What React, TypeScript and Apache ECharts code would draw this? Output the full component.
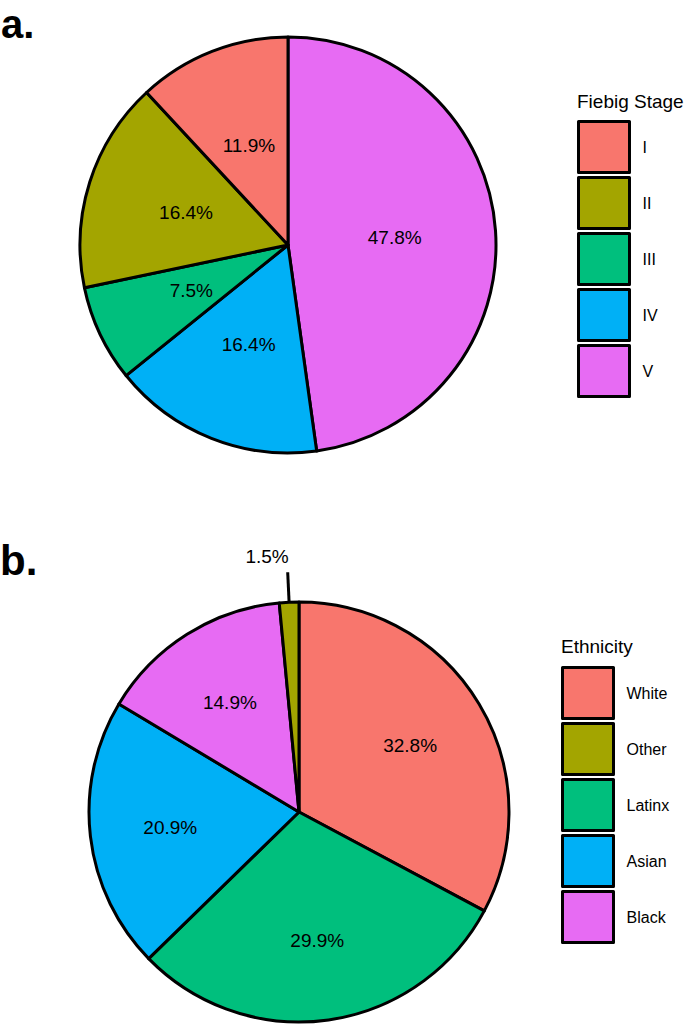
import React, { useEffect, useRef } from "react";
import * as echarts from "echarts";

const FONT = "'Liberation Sans', Arial, Helvetica, sans-serif";

// Panel a: Fiebig stage
const stageNames = ["I", "II", "III", "IV", "V"];
const stageValues = [11.9, 16.4, 7.5, 16.4, 47.8];
const stageColors = ["#F8766D", "#A3A500", "#00BF7D", "#00B0F6", "#E76BF3"];
const stageDrawOrder = ["V", "IV", "III", "II", "I"];

// Panel b: Ethnicity
const ethnicityNames = ["White", "Other", "Latinx", "Asian", "Black"];
const ethnicityValues = [32.8, 1.5, 29.9, 20.9, 14.9];
const ethnicityColors = ["#F8766D", "#A3A500", "#00BF7D", "#00B0F6", "#E76BF3"];
const ethnicityDrawOrder = ["White", "Latinx", "Asian", "Black", "Other"];
const outsideLabelNames = ["Other"];

const TOP_CENTER = [288, 245];
const TOP_R = 208;
const BOT_CENTER = [299, 812];
const BOT_R = 210;

function buildData(order: string[], names: string[], values: number[], colors: string[]) {
  return order.map((name) => {
    const i = names.indexOf(name);
    const item: any = { name, value: values[i], itemStyle: { color: colors[i] } };
    if (outsideLabelNames.includes(name)) {
      item.label = { show: true, position: "outside" };
      item.labelLine = {
        show: true,
        length: 30,
        length2: 0,
        lineStyle: { color: "#000", width: 3 },
      };
    }
    return item;
  });
}

const baseLabel = {
  show: true,
  position: "inside",
  color: "#000",
  fontSize: 19,
  fontFamily: FONT,
  formatter: (p: any) => Number(p.value).toFixed(1) + "%",
};

const legendBase = {
  orient: "vertical",
  icon: "rect",
  itemWidth: 51,
  itemHeight: 51,
  itemGap: 2,
  padding: 0,
  selectedMode: false,
  itemStyle: { borderColor: "#000", borderWidth: 3 },
  textStyle: { fontSize: 16, fontFamily: FONT, color: "#000", padding: [0, 0, 0, 8] },
};

export default function App() {
  const ref = useRef<HTMLDivElement>(null);
  useEffect(() => {
    if (!ref.current) return;
    const chart = echarts.init(ref.current, undefined, { renderer: "svg" });
    const otherIdx = ethnicityDrawOrder.indexOf("Other");
    chart.setOption({
      animation: false,
      backgroundColor: "#fff",
      graphic: [
        { type: "text", x: 1, y: 4, style: { text: "a.", fontSize: 40, fontWeight: "bold", fontFamily: FONT, fill: "#000", verticalAlign: "top" } },
        { type: "text", x: 0, y: 560, style: { text: "b.", fontSize: 42, fontWeight: "bold", fontFamily: FONT, fill: "#000", verticalAlign: "middle" } },
        { type: "text", x: 577, y: 101, style: { text: "Fiebig Stage", fontSize: 19, fontFamily: FONT, fill: "#000", verticalAlign: "middle" } },
        { type: "text", x: 561, y: 646, style: { text: "Ethnicity", fontSize: 19, fontFamily: FONT, fill: "#000", verticalAlign: "middle" } },
      ],
      legend: [
        { ...legendBase, data: stageNames, left: 577, top: 120 },
        { ...legendBase, data: ethnicityNames, left: 561, top: 666 },
      ],
      series: [
        {
          type: "pie",
          center: TOP_CENTER,
          radius: TOP_R,
          startAngle: 90,
          clockwise: true,
          avoidLabelOverlap: false,
          emphasis: { disabled: true },
          itemStyle: { borderColor: "#000", borderWidth: 3 },
          label: baseLabel,
          labelLine: { show: false },
          data: buildData(stageDrawOrder, stageNames, stageValues, stageColors),
        },
        {
          type: "pie",
          center: BOT_CENTER,
          radius: BOT_R,
          startAngle: 90,
          clockwise: true,
          avoidLabelOverlap: false,
          emphasis: { disabled: true },
          itemStyle: { borderColor: "#000", borderWidth: 3 },
          label: baseLabel,
          labelLine: { show: false },
          data: buildData(ethnicityDrawOrder, ethnicityNames, ethnicityValues, ethnicityColors),
          labelLayout: (p: any) => {
            if (p.dataIndex === otherIdx) {
              const pts = p.labelLinePoints;
              if (!pts) return {};
              const a = pts[0];
              const b = pts[1];
              const vx = b[0] - a[0];
              const vy = b[1] - a[1];
              const len = Math.hypot(vx, vy) || 1;
              const start = [a[0] - (vx / len) * 18, a[1] - (vy / len) * 18];
              return { labelLinePoints: [start, b, b], dx: 6, dy: -16 };
            }
            const r = p.labelRect;
            const lx = r.x + r.width / 2;
            const ly = r.y + r.height / 2;
            const k = 1.2;
            return { dx: (lx - BOT_CENTER[0]) * (k - 1), dy: (ly - BOT_CENTER[1]) * (k - 1) };
          },
        },
      ],
    });
    return () => chart.dispose();
  }, []);
  return (
    <div
      ref={ref}
      style={{ position: "absolute", left: 0, top: 0, width: 685, height: 1024 }}
    />
  );
}
